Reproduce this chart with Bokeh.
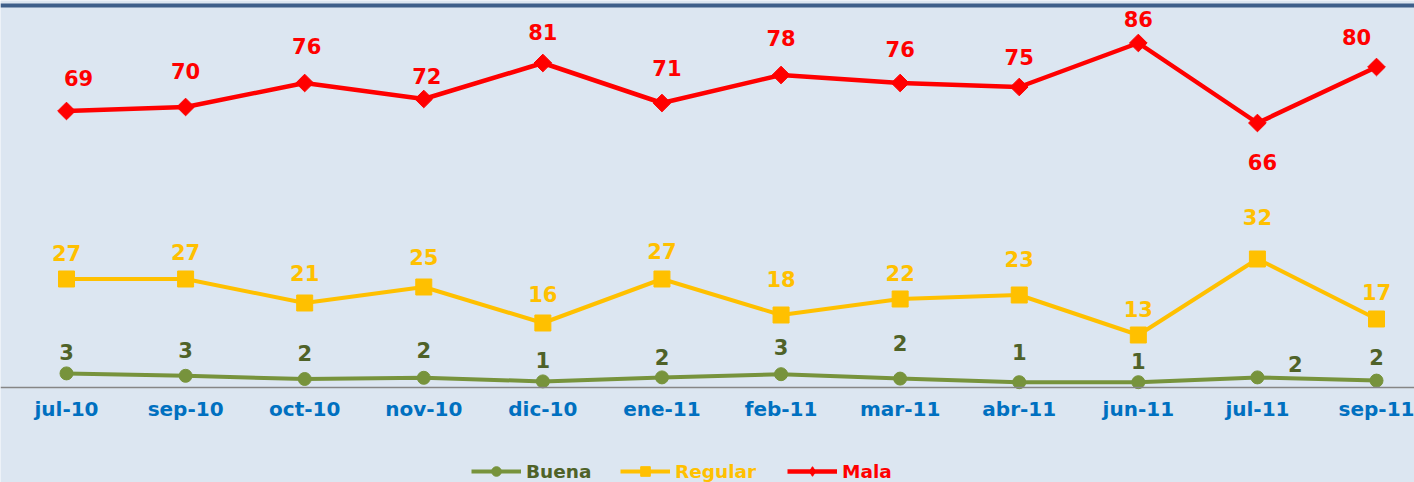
from bokeh.plotting import figure
from bokeh.models import (ColumnDataSource, Range1d, FixedTicker, Legend, LegendItem, Span)
from bokeh.core.properties import value
from bokeh.embed import file_html
from bokeh.resources import INLINE
import math

# ---- data ----
categories = ["jul-10", "sep-10", "oct-10", "nov-10", "dic-10", "ene-11",
              "feb-11", "mar-11", "abr-11", "jun-11", "jul-11", "sep-11"]
buena = [3.4, 2.8, 2.0, 2.3, 1.4, 2.4, 3.2, 2.1, 1.2, 1.2, 2.4, 1.6]
regular = [27, 27, 21, 25, 16, 27, 18, 22, 23, 13, 32, 17]
mala = [69, 70, 76, 72, 81, 71, 78, 76, 75, 86, 66, 80]

# ---- label placement (screen px offsets) ----
buena_dx = [0, 0, 0, 0, 0, 0, 0, 0, 0, 0, 38, 0]
buena_dy = [-21, -26, -26, -28, -21, -20, -27, -36, -30, -21, -13, -24]
regular_dx = [0] * 12
regular_dy = [-26, -27, -30, -30, -29, -28, -36, -26, -36, -26, -42, -27]
mala_dx = [12, 0, 2, 3, 0, 5, 0, 0, 0, 0, 5, -20]
mala_dy = [-33, -36, -37, -23, -31, -35, -37, -34, -30, -24, 39, -30]

BG = "#DCE6F1"
FONT = "DejaVu Sans"
x = list(range(len(categories)))

p = figure(width=1414, height=482, output_backend="svg", toolbar_location=None,
           x_range=Range1d(-0.5542, 11.319), y_range=Range1d(-23.875, 96.625),
           y_axis_location=None, min_border_left=0, min_border_right=0,
           min_border_bottom=0, min_border_top=0)
p.background_fill_color = BG
p.border_fill_color = BG
p.outline_line_color = None
p.xgrid.visible = False
p.ygrid.visible = False

# dark chart-area border along the top
p.add_layout(Span(location=95.375, dimension="width", line_color="#3E5F8A", line_width=4))

ax = p.xaxis[0]
ax.fixed_location = 0
ax.ticker = FixedTicker(ticks=x)
ax.major_label_overrides = {i: c for i, c in enumerate(categories)}
ax.axis_line_color = "#868686"
ax.axis_line_width = 1.5
ax.major_tick_line_color = None
ax.minor_tick_line_color = None
ax.major_tick_out = 0
ax.major_tick_in = 0
ax.major_label_standoff = 10
ax.major_label_text_color = "#0070C0"
ax.major_label_text_font = FONT
ax.major_label_text_font_style = "bold"
ax.major_label_text_font_size = "20px"

series = [
    ("Buena", buena, "#77933C", "#4F6228", "circle", 13, 0, 4, buena_dx, buena_dy),
    ("Regular", regular, "#FFC000", "#FFC000", "square", 16, 0, 4, regular_dx, regular_dy),
    ("Mala", mala, "#FF0000", "#FF0000", "square", 12.5, math.pi / 4, 4.5, mala_dx, mala_dy),
]
legend_marker = {"Buena": "circle", "Regular": "square", "Mala": "diamond"}
legend_x = {"Buena": 471, "Regular": 620, "Mala": 787}

for name, vals, col, tcol, marker, size, ang, lw, dx, dy in series:
    src = ColumnDataSource(dict(x=x, y=vals, label=[f"{v:.0f}" for v in vals], dx=dx, dy=dy))
    lr = p.line("x", "y", source=src, line_color=col, line_width=lw)
    p.scatter("x", "y", source=src, marker=marker, size=size, angle=ang,
              fill_color=col, line_color=col)
    # legend-only marker (zero size on the plot)
    lm = p.scatter("x", "y", source=src, marker=legend_marker[name], size=0,
                   fill_color=col, line_color=col)
    p.text("x", "y", text="label", source=src, x_offset="dx", y_offset="dy",
           text_align="center", text_baseline="middle", text_color=tcol,
           text_font=value(FONT), text_font_style="bold", text_font_size="21px")
    leg = Legend(items=[LegendItem(label=name, renderers=[lr, lm])],
                 location=(legend_x[name], -1), orientation="horizontal",
                 glyph_width=50, glyph_height=24, label_height=24, label_standoff=5,
                 padding=0, margin=0, spacing=0, border_line_color=None,
                 background_fill_alpha=0, label_text_color=tcol,
                 label_text_font=FONT, label_text_font_style="bold",
                 label_text_font_size="18.5px")
    p.add_layout(leg, "center")

open("out.html", "w").write(file_html(p, INLINE))
